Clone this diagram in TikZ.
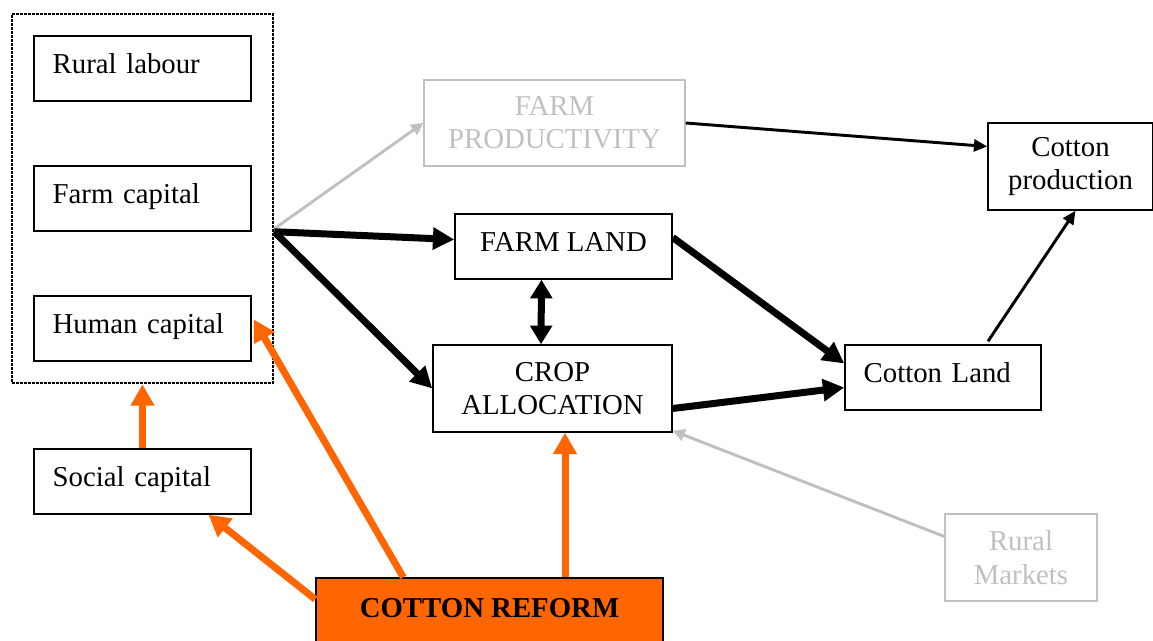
\documentclass[tikz,border=0pt]{standalone}
\usepackage{fontspec}
\setmainfont{Liberation Serif}
\usetikzlibrary{arrows.meta,calc}
\definecolor{reforange}{HTML}{FF6600}
\definecolor{ghost}{HTML}{C0C0C0}
\begin{document}
\begin{tikzpicture}[x=0.75pt,y=-0.75pt,
  font=\fontsize{21.6}{25}\selectfont,
  box/.style={draw,line width=1.1pt,inner sep=0pt,align=center},
  oneline/.style={text height=15pt,text depth=7pt},
  leftbox/.style={box,oneline,inner xsep=14pt,text width=134.75pt,align=left,minimum height=48.75pt},
  ghostbox/.style={box,draw=ghost,text=ghost},
  grpbox/.style={draw,line width=2pt,densely dotted},
  bigarrow/.style={line width=5.25pt,-{Triangle[length=16pt,width=16pt]}},
  bigdouble/.style={line width=5.25pt,{Triangle[length=14pt,width=16pt]}-{Triangle[length=14pt,width=16pt]}},
  thinarrow/.style={line width=2.2pt,-{Triangle[length=10pt,width=9pt]}},
  ghostarrow/.style={line width=2.2pt,ghost,-{Triangle[length=9pt,width=9pt]}},
  orangearrow/.style={line width=5.25pt,reforange,-{Triangle[length=16pt,width=17pt]}}
]
\useasboundingbox (0,0) rectangle (1153,641);
\clip (0,0) rectangle (1153,641);

% left group
\node[grpbox,minimum width=195.75pt,minimum height=276.75pt] (grp) at (142.5,198.5) {};
\node[leftbox] (rl) at (142.5,68.5) {Rural labour};
\node[leftbox] (fc) at (142.5,198.5) {Farm capital};
\node[leftbox] (hc) at (142.5,328.5) {Human capital};
\node[leftbox] (sc) at (142.5,481.5) {Social capital};

% middle and right
\node[ghostbox,minimum width=195.75pt,minimum height=64.5pt] (fp) at (554.5,123) {FARM\\PRODUCTIVITY};
\node[box,minimum width=123.75pt,minimum height=65.25pt] (cp) at (1070.5,166.5) {Cotton\\production};
\node[box,oneline,minimum width=162.75pt,minimum height=48.75pt] (fl) at (563.5,246.5) {FARM LAND};
\node[box,minimum width=179.25pt,minimum height=65.25pt] (ca) at (552.5,388.5) {CROP\\ALLOCATION};
\node[box,oneline,inner xsep=14pt,text width=119pt,align=left,minimum height=48.75pt] (cl) at (943,377.5) {Cotton Land};
\node[ghostbox,minimum width=114pt,minimum height=65.25pt] (rm) at (1021,557.5) {Rural\\Markets};
\node[box,fill=reforange,anchor=base,minimum width=260.25pt,text height=29.25pt,text depth=40pt,font=\fontsize{21.6}{25}\selectfont\bfseries] (cr) at (489.5,617) {COTTON REFORM};

% connectors
\coordinate (gs) at (grp.east |- fc.south);
\draw[ghostarrow] ($(gs)+(0,-3)$) -- (fp.west);
\draw[bigarrow] (gs) -- ($(fl.west)+(0,-7)$);
\draw[bigarrow] (gs) -- (ca.west);
\draw[bigdouble] ($(fl.south)+(-22,0)$) -- ($(ca.north)+(-11.5,0)$);
\draw[bigarrow] ($(fl.east)+(0,-9)$) -- ($(cl.west)+(0,-14)$);
\draw[bigarrow] ($(ca.east)+(0,20)$) -- ($(cl.west)+(0,10)$);
\draw[thinarrow] (fp.east) -- ($(cp.west)+(0,-20)$);
\draw[thinarrow] ($(cl.north)+(45,-3)$) -- ($(cp.south)+(5,0)$);
\draw[ghostarrow] ($(rm.west)+(0,-21)$) -- ($(ca.south east)+(0,-2)$);
\draw[orangearrow] (sc.north) -- (grp.south);
\draw[orangearrow] ($(cr.north west)+(0,22)$) -- ($(sc.south)+(66,0)$);
\draw[orangearrow] ($(cr.north west)+(88,0)$) -- ($(hc.east)+(2,-9)$);
\draw[orangearrow] ($(cr.north)+(75.5,0)$) -- ($(ca.south)+(12.5,0)$);
\end{tikzpicture}
\end{document}
